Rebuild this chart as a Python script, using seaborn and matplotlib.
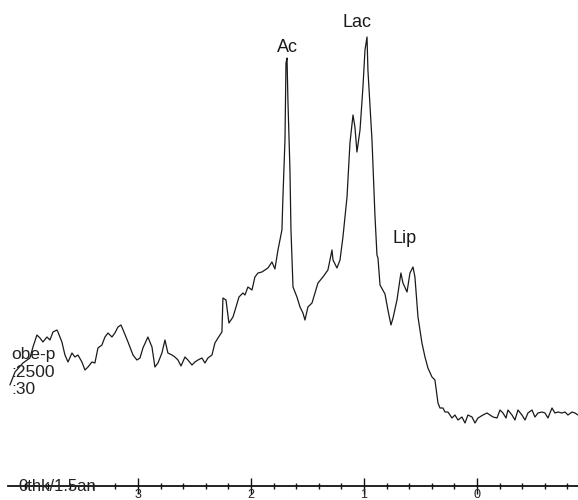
import numpy as np
import matplotlib
matplotlib.use("Agg")
import matplotlib.pyplot as plt
import seaborn as sns
from matplotlib.ticker import MultipleLocator

# chemical shift (ppm) and signal height
ppm = [4.133, 4.088, 4.018, 3.956, 3.929, 3.894, 3.867, 3.841, 3.805, 3.779,
       3.752, 3.717, 3.708, 3.673, 3.646, 3.619, 3.584, 3.558, 3.531, 3.496,
       3.469, 3.442, 3.407, 3.381, 3.354, 3.319, 3.292, 3.265, 3.230, 3.204,
       3.177, 3.150, 3.124, 3.088, 3.044, 3.009, 2.982, 2.956, 2.912, 2.876,
       2.850, 2.823, 2.788, 2.761, 2.735, 2.699, 2.673, 2.646, 2.619, 2.584,
       2.558, 2.522, 2.496, 2.469, 2.434, 2.407, 2.381, 2.345, 2.319, 2.292,
       2.257, 2.248, 2.221, 2.195, 2.159, 2.133, 2.106, 2.071, 2.053, 2.027,
       1.991, 1.965, 1.938, 1.903, 1.876, 1.850, 1.814, 1.788, 1.761, 1.743,
       1.726, 1.717, 1.699, 1.690, 1.681, 1.673, 1.655, 1.646, 1.628, 1.593,
       1.566, 1.540, 1.522, 1.496, 1.460, 1.434, 1.407, 1.363, 1.319, 1.283,
       1.274, 1.239, 1.212, 1.186, 1.150, 1.124, 1.097, 1.080, 1.062, 1.035,
       1.009, 0.991, 0.973, 0.965, 0.929, 0.903, 0.885, 0.876, 0.858, 0.814,
       0.788, 0.761, 0.743, 0.708, 0.673, 0.655, 0.619, 0.593, 0.566, 0.549,
       0.522, 0.487, 0.460, 0.434, 0.398, 0.372, 0.345, 0.327, 0.301, 0.283,
       0.257, 0.239, 0.221, 0.195, 0.168, 0.133, 0.106, 0.080, 0.044, 0.018,
       -0.009, -0.053, -0.088, -0.115, -0.142, -0.177, -0.204, -0.230, -0.257, -0.274,
       -0.310, -0.336, -0.363, -0.398, -0.425, -0.451, -0.487, -0.513, -0.540, -0.575,
       -0.602, -0.628, -0.664, -0.690, -0.717, -0.752, -0.779, -0.805, -0.841, -0.867,
       -0.894]
signal = [101, 114, 123, 128, 139, 151, 148, 144, 149, 146,
          154, 156, 154, 144, 131, 124, 133, 129, 131, 124,
          116, 119, 124, 123, 138, 141, 149, 153, 149, 153,
          159, 161, 154, 144, 131, 126, 128, 138, 149, 139,
          119, 123, 133, 146, 133, 131, 129, 126, 120, 129,
          126, 121, 124, 126, 128, 123, 128, 131, 143, 148,
          154, 188, 186, 163, 169, 179, 189, 193, 191, 199,
          196, 209, 213, 214, 216, 218, 224, 217, 236, 246,
          256, 289, 346, 423, 428, 386, 316, 256, 199, 189,
          179, 173, 166, 179, 183, 193, 203, 209, 216, 236,
          226, 218, 226, 249, 289, 343, 371, 359, 334, 356,
          399, 436, 449, 416, 346, 271, 231, 228, 201, 192,
          176, 161, 168, 186, 213, 203, 194, 213, 219, 209,
          169, 143, 129, 118, 109, 106, 83, 78, 78, 74,
          74, 71, 68, 71, 66, 69, 63, 71, 69, 63,
          68, 71, 73, 71, 69, 68, 76, 73, 68, 76,
          71, 66, 76, 71, 66, 73, 76, 69, 73, 74,
          73, 68, 78, 73, 74, 73, 74, 71, 74, 73,
          71]

tick_pos = [3, 2, 1, 0]
tick_labels = ["3", "2", "1", "0"]

peak_names = ["Ac", "Lac", "Lip"]
peak_ppm = [1.673, 1.062, 0.637]
peak_height = [434, 459, 243]

info_lines = ["obe-p", ":2500", ":30"]
scan_note = "0thk/1.5an"

sns.set_style("white")
plt.rcParams["font.family"] = ["Liberation Sans", "DejaVu Sans"]

fig = plt.figure(figsize=(5.78, 5.0), dpi=100)
ax = fig.add_axes([8 / 578, 14 / 500, 570 / 578, 486 / 500])

sns.lineplot(x=ppm, y=signal, sort=False, estimator=None, color="#1a1a1a",
             linewidth=0.9, ax=ax)

ax.set_xlim(4.150, -0.894)
ax.set_ylim(0, 486)

for side in ["top", "right", "left"]:
    ax.spines[side].set_visible(False)
ax.spines["bottom"].set_linewidth(1.3)
ax.spines["bottom"].set_color("#111111")
ax.set_yticks([])
ax.set_xticks(tick_pos)
ax.set_xticklabels(tick_labels, fontsize=9, color="#222222")
ax.xaxis.set_minor_locator(MultipleLocator(0.2))
ax.tick_params(axis="x", which="major", direction="inout", length=11,
               width=1, color="#111111", pad=-3, bottom=True)
ax.tick_params(axis="x", which="minor", direction="inout", length=5,
               width=1, color="#111111", bottom=True)
ax.set_xlabel("")
ax.set_ylabel("")

for name, px, py in zip(peak_names, peak_ppm, peak_height):
    ax.text(px, py, name, ha="center", va="baseline", fontsize=13, color="#1a1a1a")

for line, base in zip(info_lines, [359, 377, 394]):
    fig.text(11 / 578, 1 - base / 500, line, ha="left", va="baseline",
             fontsize=12.5, color="#222222")
fig.text(18 / 578, 1 - 491 / 500, scan_note, ha="left", va="baseline",
         fontsize=12, color="#222222")

fig.savefig("out.png", dpi=100)
